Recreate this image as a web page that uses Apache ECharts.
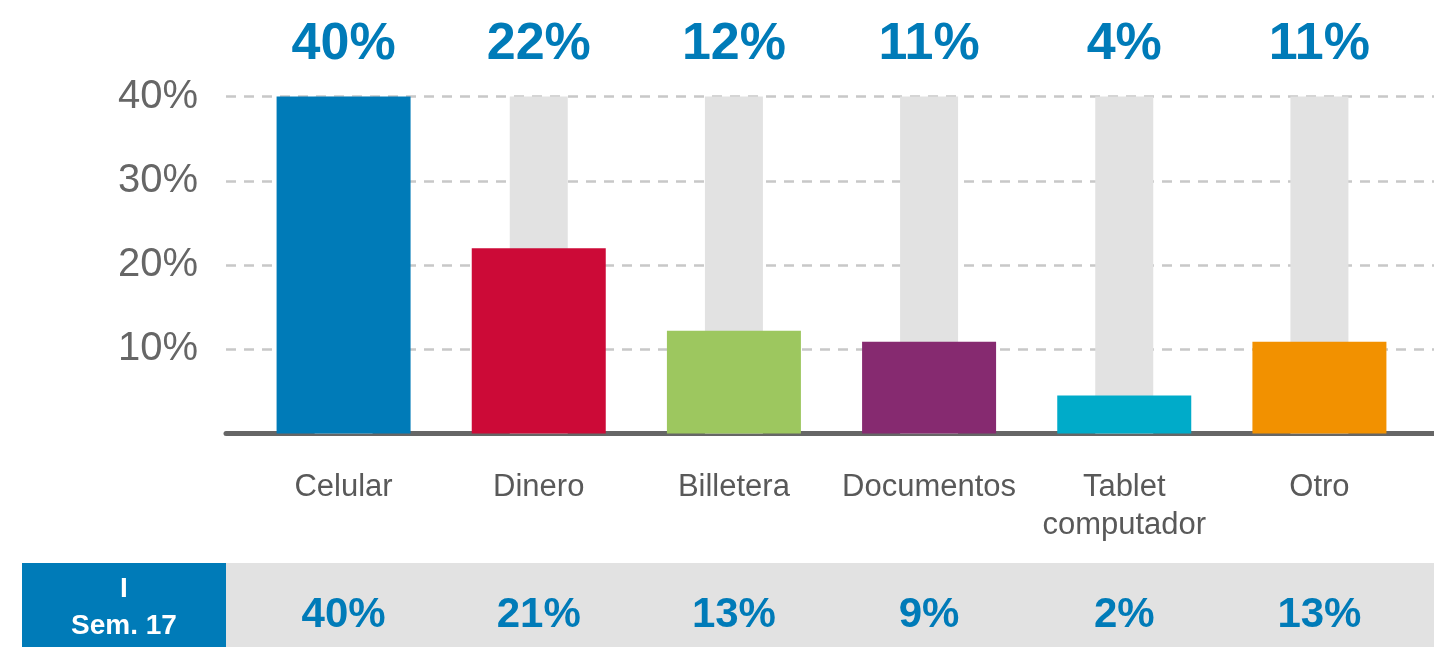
<!DOCTYPE html>
<html>
<head>
<meta charset="utf-8">
<script src="https://cdn.jsdelivr.net/npm/echarts@6/dist/echarts.min.js"></script>
<style>
  html, body { margin: 0; padding: 0; background: #fff; }
  #chart { width: 1434px; height: 647px; }
</style>
</head>
<body>
<div id="chart"></div>
<script>
// categories and values
var categories = ['Celular', 'Dinero', 'Billetera', 'Documentos', 'Tablet\ncomputador', 'Otro'];
var shares = [40, 22, 12.2, 10.9, 4.5, 10.9];
var shareLabels = ['40%', '22%', '12%', '11%', '4%', '11%'];
var backBars = [40, 40, 40, 40, 40, 40];
var semLabels = ['40%', '21%', '13%', '9%', '2%', '13%'];
var yTicks = [0, 10, 20, 30, 40];

var barColors = ['#007bb8', '#cc0a37', '#9dc75f', '#862a70', '#00abc9', '#f29100'];
var font = '"Liberation Sans", Arial, sans-serif';
var blue = '#007bb8';

var myChart = echarts.init(document.getElementById('chart'));

var option = {
  backgroundColor: '#fff',
  animation: false,
  textStyle: { fontFamily: font },
  graphic: [
    { type: 'rect', shape: { x: 226, y: 563, width: 1208, height: 84 }, style: { fill: '#e2e2e2' }, z: 0 },
    { type: 'rect', shape: { x: 22, y: 563, width: 204, height: 84 }, style: { fill: blue }, z: 0 },
    { type: 'text', x: 124, y: 589, style: { text: 'I', fill: '#fff', font: 'bold 28px ' + font, align: 'center', verticalAlign: 'middle' }, z: 1 },
    { type: 'text', x: 124, y: 626, style: { text: 'Sem. 17', fill: '#fff', font: 'bold 28px ' + font, align: 'center', verticalAlign: 'middle' }, z: 1 }
  ],
  grid: [
    { left: 226, right: 0, top: 96.5, bottom: 213.5 },
    { left: 246, right: 17, top: 96.5, bottom: 213.5 }
  ],
  xAxis: [
    { // base line under the bars
      type: 'category', gridIndex: 0, data: categories, offset: 3,
      axisLine: { lineStyle: { color: '#666', width: 5 } },
      axisTick: { show: false }, axisLabel: { show: false }
    },
    { // category names
      type: 'category', gridIndex: 1, data: categories,
      axisLine: { show: false }, axisTick: { show: false },
      axisLabel: { color: '#595959', fontSize: 31, lineHeight: 38, margin: 35, interval: 0 }
    },
    { // values on top, also carries the grey back bars
      type: 'category', gridIndex: 1, data: shareLabels, position: 'top',
      axisLine: { show: false }, axisTick: { show: false },
      axisLabel: { color: blue, fontSize: 52, fontWeight: 'bold', lineHeight: 52, margin: 26, interval: 0 }
    },
    { // I Sem. 17 row
      type: 'category', gridIndex: 1, data: semLabels, position: 'bottom',
      axisLine: { show: false }, axisTick: { show: false },
      axisLabel: { color: blue, fontSize: 42, fontWeight: 'bold', lineHeight: 42, margin: 161, interval: 0 }
    }
  ],
  yAxis: [
    {
      type: 'value', gridIndex: 0, min: yTicks[0], max: yTicks[yTicks.length - 1], interval: 10,
      axisLine: { show: false }, axisTick: { show: false },
      axisLabel: {
        color: '#666', fontSize: 40, margin: 28,
        formatter: function (v) { return v === 0 ? '' : v + '%'; }
      },
      splitLine: {
        lineStyle: { color: '#c8c8c8', width: 2.5, type: [10, 8] },
        showMinLine: false
      }
    },
    {
      type: 'value', gridIndex: 1, min: yTicks[0], max: yTicks[yTicks.length - 1], interval: 10,
      show: false
    }
  ],
  series: [
    {
      name: 'fondo', type: 'bar', xAxisIndex: 2, yAxisIndex: 1,
      barWidth: 58, itemStyle: { color: '#e2e2e2' }, z: 1,
      data: backBars
    },
    {
      name: 'share', type: 'bar', xAxisIndex: 1, yAxisIndex: 1,
      barWidth: 134, z: 2,
      data: shares.map(function (v, i) {
        return { value: v, itemStyle: { color: barColors[i] } };
      })
    }
  ]
};

myChart.setOption(option);
</script>
</body>
</html>
